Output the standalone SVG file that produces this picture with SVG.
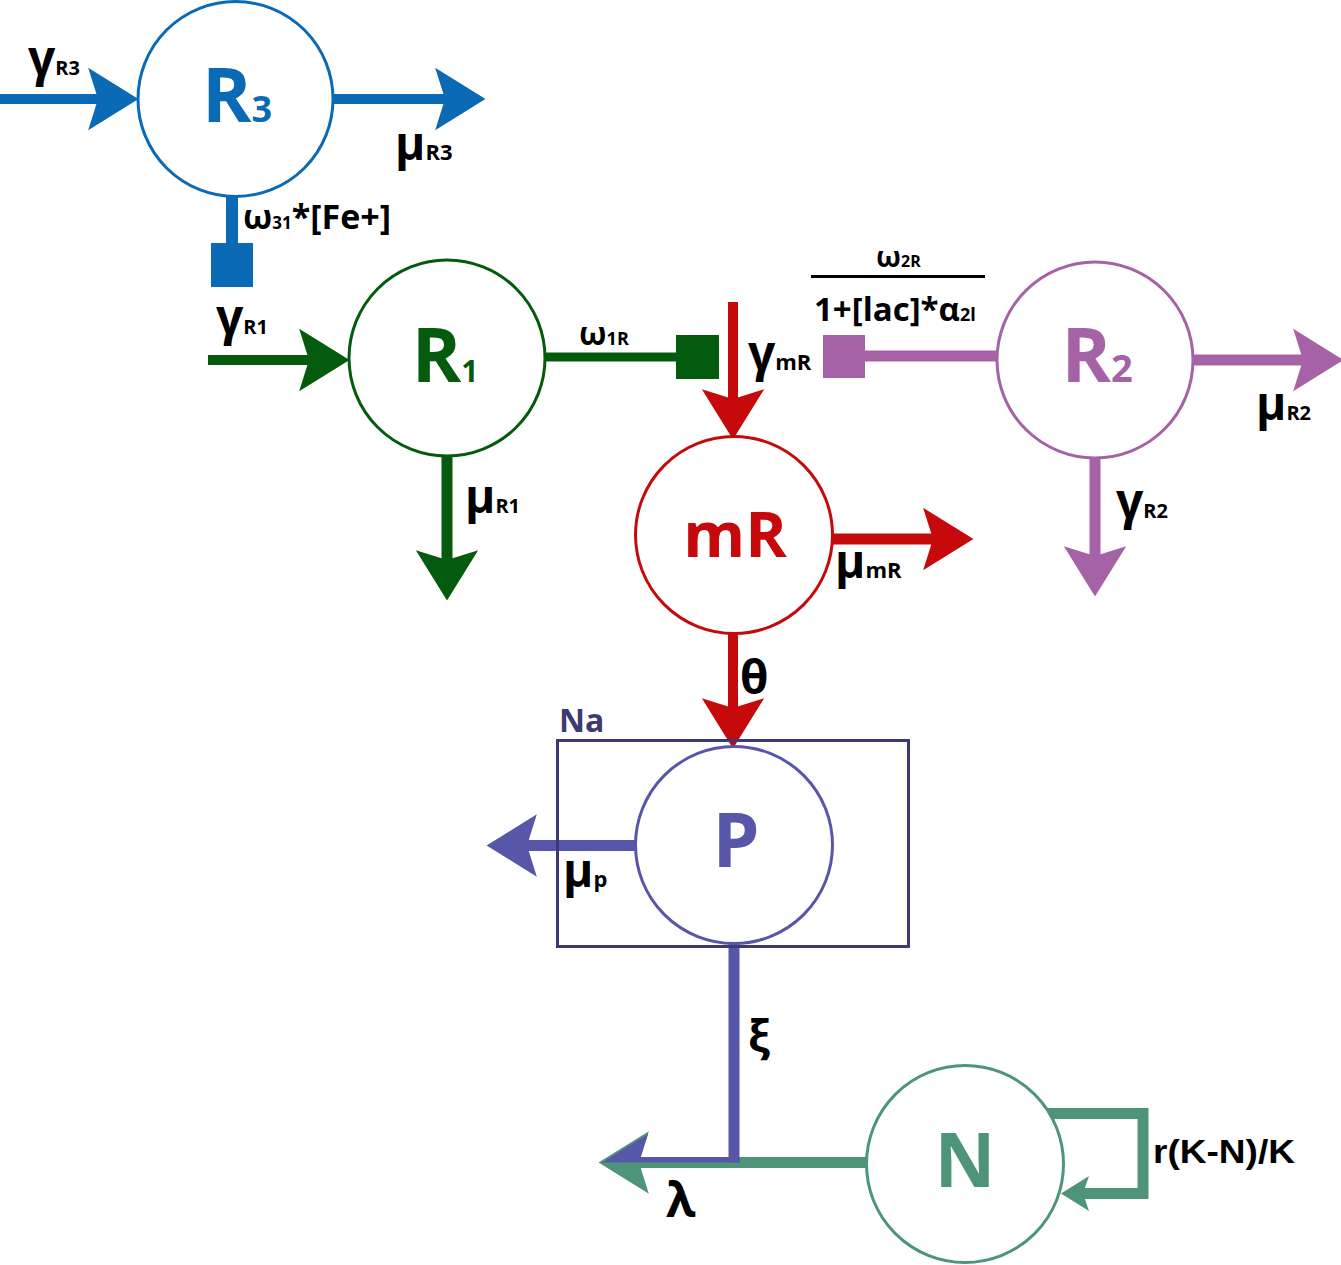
<svg xmlns="http://www.w3.org/2000/svg" width="1341" height="1265" viewBox="0 0 1341 1265">
<style>
.lbl{font-family:"Open Sans","DejaVu Sans",sans-serif;font-weight:700;fill:#000}
.lbl2{font-family:"Liberation Sans","Arial",sans-serif;font-weight:700;fill:#000}
.nd{font-family:"Open Sans","DejaVu Sans",sans-serif;font-weight:700;font-size:75px;text-anchor:middle}
.circ{stroke-width:3;fill:#fff}
.ln{fill:none;stroke-width:10;stroke-linecap:butt}
.blue{stroke:#0b6ab5}.green{stroke:#045a0d}.red{stroke:#c60a0b}.mauve{stroke:#a562a6}.indigo{stroke:#5756a9}.teal{stroke:#4e9479}
</style>
<defs>
<marker id="a-blue" markerUnits="userSpaceOnUse" markerWidth="60" markerHeight="70" viewBox="-10 -32 50 64" refX="0" refY="0" orient="auto" overflow="visible"><path d="M37,0 L-9,-28.5 L0,0 L-9,28.5 Z" fill="#0b6ab5"/></marker>
<marker id="a-green" markerUnits="userSpaceOnUse" markerWidth="60" markerHeight="70" viewBox="-10 -32 50 64" refX="0" refY="0" orient="auto" overflow="visible"><path d="M37,0 L-9,-28.5 L0,0 L-9,28.5 Z" fill="#045a0d"/></marker>
<marker id="a-red" markerUnits="userSpaceOnUse" markerWidth="60" markerHeight="70" viewBox="-10 -32 50 64" refX="0" refY="0" orient="auto" overflow="visible"><path d="M37,0 L-9,-28.5 L0,0 L-9,28.5 Z" fill="#c60a0b"/></marker>
<marker id="a-mauve" markerUnits="userSpaceOnUse" markerWidth="60" markerHeight="70" viewBox="-10 -32 50 64" refX="0" refY="0" orient="auto" overflow="visible"><path d="M37,0 L-9,-28.5 L0,0 L-9,28.5 Z" fill="#a562a6"/></marker>
<marker id="a-indigo" markerUnits="userSpaceOnUse" markerWidth="60" markerHeight="70" viewBox="-10 -32 50 64" refX="0" refY="0" orient="auto" overflow="visible"><path d="M37,0 L-9,-28.5 L0,0 L-9,28.5 Z" fill="#5756a9"/></marker>
<marker id="a-teal" markerUnits="userSpaceOnUse" markerWidth="60" markerHeight="70" viewBox="-10 -32 50 64" refX="0" refY="0" orient="auto" overflow="visible"><path d="M37,0 L-9,-28.5 L0,0 L-9,28.5 Z" fill="#4e9479"/></marker>
<marker id="a-teal-s" markerUnits="userSpaceOnUse" markerWidth="40" markerHeight="40" viewBox="-8 -20 32 40" refX="0" refY="0" orient="auto" overflow="visible"><path d="M22,0 L-6,-17.5 L0,0 L-6,17.5 Z" fill="#4e9479"/></marker>
</defs>

<g id="connectors">
  <path class="ln blue" d="M0,99 H98" marker-end="url(#a-blue)"/>
  <path class="ln blue" d="M334,99 H445" marker-end="url(#a-blue)"/>
  <path class="ln blue" d="M232,197 V245" style="stroke-width:12"/>
  <rect x="211" y="243" width="42" height="44" fill="#0b6ab5"/>
  <path class="ln green" d="M208,360 H309" marker-end="url(#a-green)"/>
  <path class="ln green" d="M546,357 H678" style="stroke-width:9"/>
  <rect x="676" y="335" width="43" height="44" fill="#045a0d"/>
  <path class="ln green" d="M447,457 V560" style="stroke-width:11" marker-end="url(#a-green)"/>
  <path class="ln red" d="M733,302 V399" marker-end="url(#a-red)"/>
  <path class="ln red" d="M833,539 H933" style="stroke-width:11" marker-end="url(#a-red)"/>
  <path class="ln red" d="M733,633 V708" marker-end="url(#a-red)"/>
  <rect x="823" y="335" width="42" height="43" fill="#a562a6"/>
  <path class="ln mauve" d="M863,356 H997" style="stroke-width:11"/>
  <path class="ln mauve" d="M1194,360 H1303" style="stroke-width:11" marker-end="url(#a-mauve)"/>
  <path class="ln mauve" d="M1095,458 V556" style="stroke-width:11" marker-end="url(#a-mauve)"/>
  <path class="ln indigo" d="M635,845.5 H527" style="stroke-width:11" marker-end="url(#a-indigo)"/>
  <path class="ln teal" d="M867,1162.5 H639" style="stroke-width:11" marker-end="url(#a-teal)"/>
  <path class="ln teal" d="M1045,1113.5 H1143 V1193.5 H1083" style="stroke-width:11;stroke-linejoin:miter" marker-end="url(#a-teal-s)"/>
  <path class="ln indigo" d="M734,943 V1162.5" style="stroke-width:11"/>
  <rect x="639" y="1157" width="100.5" height="5.5" fill="#5756a9"/>
  <path d="M602,1162.5 L648,1134 L639,1162.5 Z" fill="#5756a9"/>
</g>

<g id="Na">
  <rect x="557.5" y="740.5" width="351" height="206" fill="none" stroke="#3b3a74" stroke-width="3"/>
  <text class="lbl" x="559" y="732" style="font-size:32px;fill:#3b3a74">Na</text>
</g>

<g id="R3">
  <circle class="circ" cx="235.5" cy="99" r="97.5" stroke="#0b6ab5"/>
  <text class="nd" x="237" y="122" fill="#0b6ab5">R<tspan font-size="36">3</tspan></text>
</g>
<g id="R1">
  <circle class="circ" cx="447" cy="358" r="98" stroke="#045a0d"/>
  <text class="nd" x="445" y="382" fill="#045a0d">R<tspan font-size="30">1</tspan></text>
</g>
<g id="mR">
  <circle class="circ" cx="734" cy="535" r="98.5" stroke="#c60a0b"/>
  <text class="nd" x="735" y="557" fill="#c60a0b" style="font-size:63px">mR</text>
</g>
<g id="R2">
  <circle class="circ" cx="1095" cy="360" r="98" stroke="#a562a6"/>
  <text class="nd" x="1097" y="382" fill="#a562a6">R<tspan font-size="38">2</tspan></text>
</g>
<g id="P">
  <circle class="circ" cx="734" cy="845" r="98.5" stroke="#5756a9"/>
  <text class="nd" x="736" y="867" fill="#5756a9">P</text>
</g>
<g id="N">
  <circle class="circ" cx="965" cy="1164" r="98.5" stroke="#4e9479"/>
  <text class="nd" x="965" y="1187" fill="#4e9479">N</text>
</g>

<g id="labels">
  <text class="lbl" x="28" y="75"><tspan font-size="48">γ</tspan><tspan font-size="20">R3</tspan></text>
  <text class="lbl" x="395" y="160"><tspan font-size="46">μ</tspan><tspan font-size="22">R3</tspan></text>
  <text class="lbl" x="243" y="229" font-size="34">ω<tspan font-size="17">31</tspan>*[Fe+]</text>
  <text class="lbl" x="216" y="334"><tspan font-size="48">γ</tspan><tspan font-size="20">R1</tspan></text>
  <text class="lbl" x="579" y="345"><tspan font-size="32">ω</tspan><tspan font-size="18">1R</tspan></text>
  <text class="lbl" x="748" y="370"><tspan font-size="48">γ</tspan><tspan font-size="22">mR</tspan></text>
  <text class="lbl" x="465" y="513"><tspan font-size="46">μ</tspan><tspan font-size="20">R1</tspan></text>
  <text class="lbl" x="835" y="578"><tspan font-size="46">μ</tspan><tspan font-size="22">mR</tspan></text>
  <text class="lbl" x="876" y="267"><tspan font-size="29">ω</tspan><tspan font-size="16">2R</tspan></text>
  <line x1="811" y1="276.5" x2="985" y2="276.5" stroke="#000" stroke-width="3"/>
  <text class="lbl" x="814" y="321" font-size="33">1+[lac]*α<tspan font-size="18">2l</tspan></text>
  <text class="lbl" x="1256" y="420"><tspan font-size="46">μ</tspan><tspan font-size="20">R2</tspan></text>
  <text class="lbl" x="1116" y="518"><tspan font-size="48">γ</tspan><tspan font-size="20">R2</tspan></text>
  <text class="lbl" x="740" y="694" font-size="46">θ</text>
  <text class="lbl" x="563" y="887"><tspan font-size="46">μ</tspan><tspan font-size="22">p</tspan></text>
  <text class="lbl" x="748" y="1052" font-size="44">ξ</text>
  <text class="lbl" x="666" y="1217" font-size="48">λ</text>
  <text class="lbl2" x="1153" y="1163" font-size="34" textLength="142" lengthAdjust="spacingAndGlyphs">r(K-N)/K</text>
</g>
</svg>
